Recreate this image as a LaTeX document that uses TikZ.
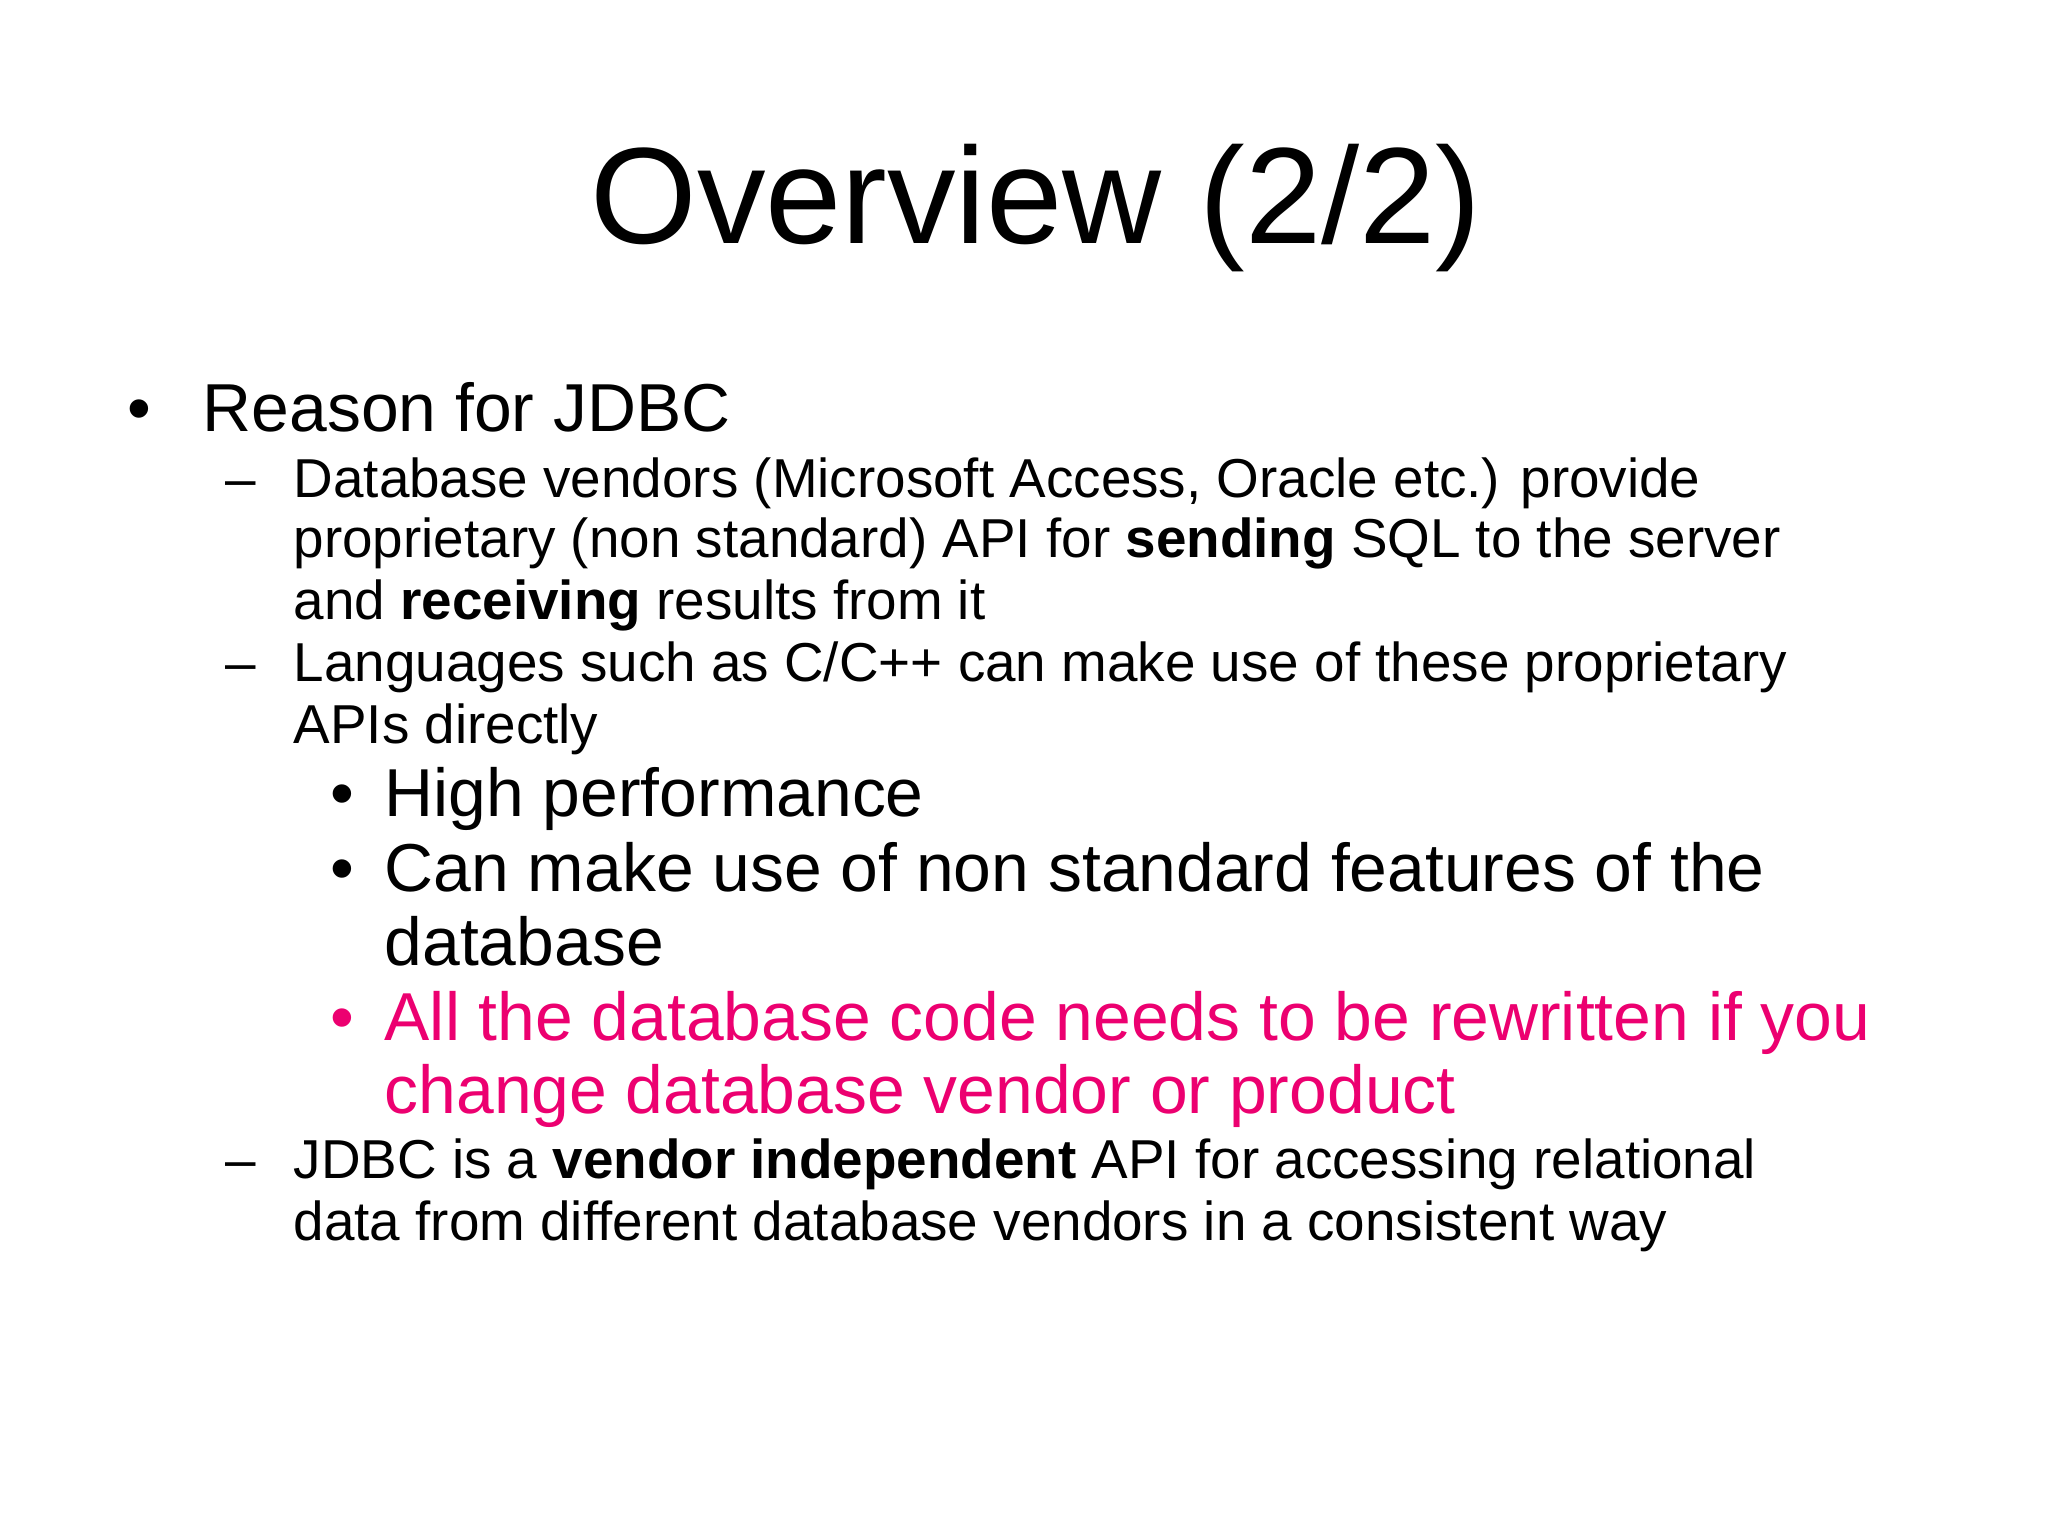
\documentclass[tikz,border=0pt]{standalone}
\usepackage{fontspec}
\setmainfont{Liberation Sans}
\usepackage{tikz}
\definecolor{pink}{RGB}{236, 0, 112}

\begin{document}
\begin{tikzpicture}[
  txt/.style={anchor=base west, inner sep=0pt},
  big/.style={txt, font=\fontsize{19.3}{23}\selectfont},
  small/.style={txt, font=\fontsize{15.6}{19}\selectfont}]

\useasboundingbox (0, 0) rectangle (20.48, -15.36);

\node[inner sep=0pt, anchor=base, font=\fontsize{39}{46}\selectfont] (title) at (10.36, -2.44) {Overview (2/2)};

% first level
\node[big] (b1) at (1.27, -4.32) {\textbullet};
\node[big] (reason) at (2.02, -4.32) {Reason for JDBC};

% second level
\node[small] (d1) at (2.25, -4.97) {–};
\node[small] (l1) at (2.93, -4.97) {Database vendors (Microsoft Access, Oracle etc.) provide};
\node[small] (l2) at (2.93, -5.58) {proprietary (non standard) API for \textbf{sending} SQL to the server};
\node[small] (l3) at (2.93, -6.20) {and \textbf{receiving} results from it};
\node[small] (d2) at (2.25, -6.82) {–};
\node[small] (l4) at (2.93, -6.82) {Languages such as C/C++ can make use of these proprietary};
\node[small] (l5) at (2.93, -7.44) {APIs directly};

% third level
\node[big] (b2) at (3.30, -8.16) {\textbullet};
\node[big] (p1) at (3.84, -8.16) {High performance};
\node[big] (b3) at (3.30, -8.91) {\textbullet};
\node[big] (p2) at (3.84, -8.91) {Can make use of non standard features of the};
\node[big] (p3) at (3.84, -9.65) {database};
\node[big, pink] (b4) at (3.30, -10.40) {\textbullet};
\node[big, pink] (p4) at (3.84, -10.40) {All the database code needs to be rewritten if you};
\node[big, pink] (p5) at (3.84, -11.14) {change database vendor or product};

% last dash
\node[small] (d3) at (2.25, -11.78) {–};
\node[small] (l6) at (2.93, -11.78) {JDBC is a \textbf{vendor independent} API for accessing relational};
\node[small] (l7) at (2.93, -12.40) {data from different database vendors in a consistent way};

\end{tikzpicture}
\end{document}
